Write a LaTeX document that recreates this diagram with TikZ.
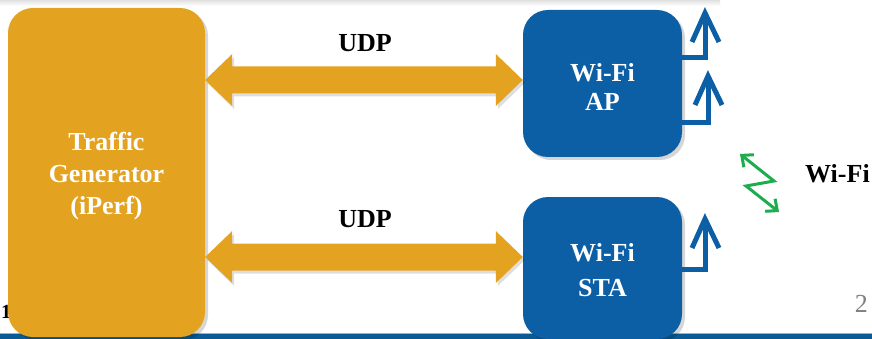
\documentclass[tikz,border=0pt]{standalone}
\usepackage{fontspec}
\setmainfont{Liberation Serif}
\usetikzlibrary{calc,shadows,arrows.meta}

\definecolor{genorange}{HTML}{E3A21F}
\definecolor{wifiblue}{HTML}{0C5FA5}
\definecolor{barblue}{HTML}{0A5A96}
\definecolor{linkgreen}{HTML}{1EAD4E}

\tikzset{
  block/.style={rounded corners=25pt, inner sep=0pt, text=white,
    font=\bfseries\fontsize{26}{32}\selectfont, align=center,
    drop shadow={shadow xshift=3pt, shadow yshift=-3pt, opacity=0.16, fill=black}},
  genbox/.style={block, fill=genorange, minimum width=197pt, minimum height=329pt},
  apbox/.style={block, fill=wifiblue, minimum width=159pt, minimum height=147pt},
  udparrow/.style={fill=genorange,
    drop shadow={shadow xshift=2pt, shadow yshift=-3pt, opacity=0.13, fill=black}},
  antenna/.style={draw=wifiblue, line width=5pt, line join=miter, line cap=butt},
  label/.style={font=\bfseries\fontsize{26}{30}\selectfont, text=black, inner sep=0pt},
  radio/.style={draw=linkgreen, line width=3pt, line join=miter,
    {Straight Barb[length=9pt,width=16pt,line width=3pt]}-{Straight Barb[length=9pt,width=16pt,line width=3pt]}}
}

\begin{document}
\begin{tikzpicture}[x=1pt, y=-1pt]
\useasboundingbox (0,0) rectangle (872,339);

% faint shadow band along the top edge
\shade[top color=black!12, bottom color=white] (0,0) rectangle (720,6);

% footer bar
\fill[barblue] (0,333.5) rectangle (872,339);
\fill[barblue!45] (0,333) rectangle (872,334);

% slide number fragments
\node[font=\bfseries\fontsize{20}{22}\selectfont, anchor=west, inner sep=0pt] (num1) at (1,312) {1};
\node[font=\fontsize{26}{28}\selectfont, text=black!50, anchor=east, inner sep=0pt] (num2) at (868,304) {2};

% blocks
\node[genbox] (gen) at (106.5,172.5) {};
\node[font=\bfseries\fontsize{26}{32}\selectfont, text=white, align=center, inner sep=0pt] (gentext) at (106.5,176.5) {Traffic\\Generator\\(iPerf)};
\node[apbox] (ap) at (602.5,83.5) {};
\node[font=\bfseries\fontsize{26}{29}\selectfont, text=white, align=center, inner sep=0pt] (aptext) at (602.5,86.5) {Wi-Fi\\AP};
\node[apbox, minimum height=142pt] (sta) at (602.5,268) {};
\node[font=\bfseries\fontsize{26}{35}\selectfont, text=white, align=center, inner sep=0pt] (statext) at (602.5,270.5) {Wi-Fi\\STA};

% UDP double arrows between generator and the Wi-Fi blocks
\foreach \dst/\yc in {ap/80, sta/257} {
  \fill[udparrow]
    (gen.east |- 0,\yc) -- ++(27,-26) -- ++(0,12.5) -- ($(\dst.west |- 0,\yc)+(-27,-13.5)$)
    -- ++(0,-12.5) -- (\dst.west |- 0,\yc) -- ++(-27,26) -- ++(0,-12.5)
    -- ($(gen.east |- 0,\yc)+(27,13.5)$) -- ++(0,12.5) -- cycle;
}
\node[label] (udp1) at (365,43) {UDP};
\node[label] (udp2) at (365,219) {UDP};

% antennas
\coordinate (tip1) at (705,13);
\coordinate (tip2) at (708,76);
\coordinate (tip3) at (705,219);
\draw[antenna] (ap.east |- 0,58) -| (tip1);
\draw[antenna] ($(tip1)+(-13,29)$) -- (tip1) -- ($(tip1)+(14,29)$);
\draw[antenna] (ap.east |- 0,123) -| (tip2);
\draw[antenna] ($(tip2)+(-13,29)$) -- (tip2) -- ($(tip2)+(14,29)$);
\draw[antenna] (sta.east |- 0,269) -| (tip3);
\draw[antenna] ($(tip3)+(-13,29)$) -- (tip3) -- ($(tip3)+(14,29)$);

% wireless link
\coordinate (r1) at (740,154);
\coordinate (r2) at (774,181);
\coordinate (r3) at (746,186);
\coordinate (r4) at (779,212);
\draw[radio] (r1) -- (r2) -- (r3) -- (r4);
\node[label, anchor=west] (wifi) at (805,174) {Wi-Fi};
\end{tikzpicture}
\end{document}
